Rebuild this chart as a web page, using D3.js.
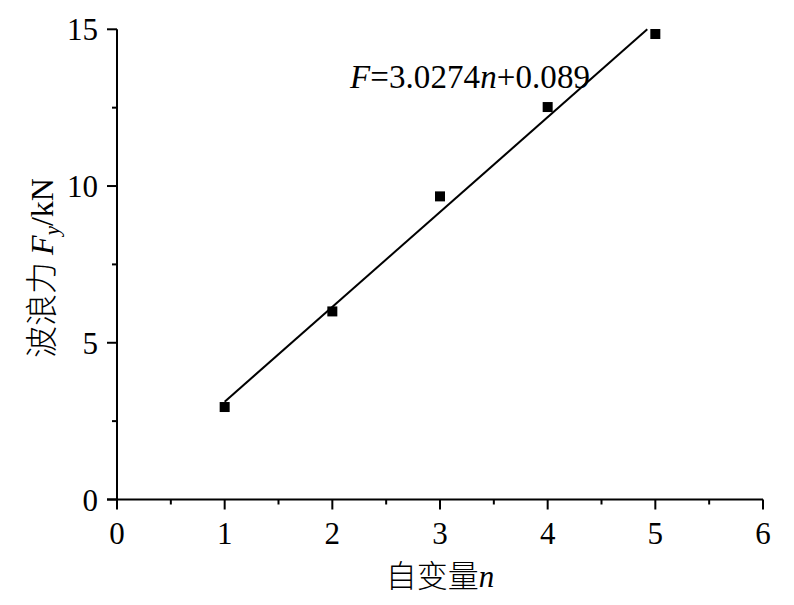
<!DOCTYPE html>
<html>
<head>
<meta charset="utf-8">
<script src="https://cdn.jsdelivr.net/npm/d3@7"></script>
<style>
  body { margin: 0; background: #fff; }
  text { font-family: "Liberation Serif", "Times New Roman", serif; fill: #000; }
  .cjk { font-family: "Noto Sans CJK SC", sans-serif; font-weight: 300; }
</style>
</head>
<body>
<svg></svg>
<script>
// data
const nValues = [1, 2, 3, 4, 5];
const forceValues = [2.95, 6.0, 9.67, 12.52, 14.85];
// fitted line F = 3.0274 n + 0.089
const fitSlope = 3.0274;
const fitIntercept = 0.089;
const xTicks = [0, 1, 2, 3, 4, 5, 6];
const yTicks = [0, 5, 10, 15];

const w = 794;
const h = 605;
const svg = d3.select("svg")
              .attr("width", w)
              .attr("height", h);

const xScale = d3.scaleLinear().domain([0, 6]).range([117, 763]);
const yScale = d3.scaleLinear().domain([0, 15]).range([499.5, 29.3]);

// x axis, major and minor ticks
const xAxis = svg.append("g").attr("transform", "translate(0," + yScale(0) + ")");
xAxis.append("line")
     .attr("x1", xScale(0) - 10).attr("x2", xScale(6))
     .attr("stroke", "#000").attr("stroke-width", 2);
xAxis.selectAll(".major")
     .data(xTicks)
     .enter().append("line")
     .attr("x1", d => xScale(d)).attr("x2", d => xScale(d))
     .attr("y1", 0).attr("y2", 10)
     .attr("stroke", "#000").attr("stroke-width", 2);
xAxis.selectAll(".minor")
     .data(d3.range(0.5, 6, 1))
     .enter().append("line")
     .attr("x1", d => xScale(d)).attr("x2", d => xScale(d))
     .attr("y1", 0).attr("y2", 5)
     .attr("stroke", "#000").attr("stroke-width", 2);
xAxis.selectAll("text")
     .data(xTicks)
     .enter().append("text")
     .attr("x", d => xScale(d))
     .attr("y", 44)
     .attr("text-anchor", "middle")
     .style("font-size", "31px")
     .text(d => d);

// y axis
const yAxis = svg.append("g").attr("transform", "translate(" + xScale(0) + ",0)");
yAxis.append("line")
     .attr("y1", yScale(0)).attr("y2", yScale(15))
     .attr("stroke", "#000").attr("stroke-width", 2);
yAxis.selectAll(".major")
     .data(yTicks)
     .enter().append("line")
     .attr("y1", d => yScale(d)).attr("y2", d => yScale(d))
     .attr("x1", -10).attr("x2", 0)
     .attr("stroke", "#000").attr("stroke-width", 2);
yAxis.selectAll(".minor")
     .data([2.5, 7.5, 12.5])
     .enter().append("line")
     .attr("y1", d => yScale(d)).attr("y2", d => yScale(d))
     .attr("x1", -5).attr("x2", 0)
     .attr("stroke", "#000").attr("stroke-width", 2);
yAxis.selectAll("text")
     .data(yTicks)
     .enter().append("text")
     .attr("x", -19)
     .attr("y", d => yScale(d) + 11)
     .attr("text-anchor", "end")
     .style("font-size", "31px")
     .text(d => d);

// axis titles
svg.append("text")
   .attr("x", 440)
   .attr("y", 587)
   .attr("text-anchor", "middle")
   .style("font-size", "31px")
   .html('<tspan class="cjk">自变量</tspan><tspan font-style="italic">n</tspan>');

svg.append("text")
   .attr("transform", "translate(53,268) rotate(-90)")
   .attr("text-anchor", "middle")
   .style("font-size", "32px")
   .html('<tspan class="cjk">波浪力 </tspan><tspan font-style="italic">F</tspan>' +
         '<tspan font-style="italic" font-size="21px" dy="6">y</tspan>' +
         '<tspan dy="-6">/kN</tspan>');

// fitted line, clipped to the top of the plot
const nEnd = Math.min(5, (15 - fitIntercept) / fitSlope);
const line = d3.line()
               .x(d => xScale(d))
               .y(d => yScale(fitSlope * d + fitIntercept));
svg.append("path")
   .datum([1, nEnd])
   .attr("fill", "none")
   .attr("stroke", "#000")
   .attr("stroke-width", 2)
   .attr("d", line);

// data points
const size = 10;
svg.selectAll(".pt")
   .data(nValues)
   .enter().append("rect")
   .attr("x", d => xScale(d) - size / 2)
   .attr("y", (d, i) => yScale(forceValues[i]) - size / 2)
   .attr("width", size)
   .attr("height", size)
   .attr("fill", "#000");

// equation label
svg.append("text")
   .attr("x", 350)
   .attr("y", 88)
   .style("font-size", "33px")
   .attr("textLength", 240)
   .html('<tspan font-style="italic">F</tspan>=3.0274<tspan font-style="italic">n</tspan>+0.089');
</script>
</body>
</html>
